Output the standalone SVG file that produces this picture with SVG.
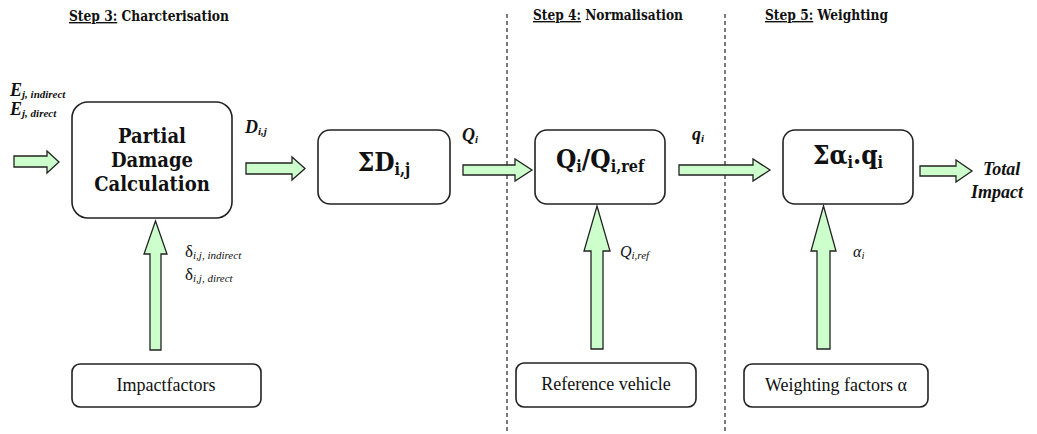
<svg xmlns="http://www.w3.org/2000/svg" width="1037" height="434" viewBox="0 0 1037 434" font-family="'Liberation Serif', 'DejaVu Serif', serif">
  <style>
    text { font-family: 'Liberation Serif', 'DejaVu Serif', serif; fill: #111; }
    .b { font-family: 'DejaVu Serif Condensed', 'DejaVu Serif', serif; font-weight: bold; }
    .title { font-size: 14px; }
    .box { fill: #fff; stroke: #222; stroke-width: 1.6; }
    .arrow { fill: #ccffcc; stroke: #222; stroke-width: 1.3; stroke-linejoin: miter; }
    .divider { stroke: #222; stroke-width: 1.2; stroke-dasharray: 4 3; }
    .big { font-size: 26px; }
    .mid { font-size: 20px; }
    .lbl { font-size: 18px; font-weight: bold; font-style: italic; }
    .sub { font-size: 11px; }
    .src { font-size: 18px; }
  </style>

  <!-- step headings -->
  <text class="b title" x="69" y="21" textLength="160" lengthAdjust="spacingAndGlyphs"><tspan text-decoration="underline">Step 3:</tspan> Charcterisation</text>
  <text class="b title" x="533" y="20" textLength="150" lengthAdjust="spacingAndGlyphs"><tspan text-decoration="underline">Step 4:</tspan> Normalisation</text>
  <text class="b title" x="765" y="20" textLength="123" lengthAdjust="spacingAndGlyphs"><tspan text-decoration="underline">Step 5:</tspan> Weighting</text>

  <!-- step dividers -->
  <line class="divider" x1="507" y1="14" x2="507" y2="434"/>
  <line class="divider" x1="725" y1="14" x2="725" y2="434"/>

  <g id="connectors">
    <!-- horizontal flow -->
    <polygon class="arrow" points="14,156 47,156 47,151 59,162 47,173 47,167 14,167"/>
    <polygon class="arrow" points="246,163 292,163 292,157 305,168.5 292,180 292,174 246,174"/>
    <polygon class="arrow" points="463,165 515,165 515,159 532,170 515,181 515,175 463,175"/>
    <polygon class="arrow" points="679,165 753,165 753,159 770,170 753,181 753,175 679,175"/>
    <polygon class="arrow" points="920,166 956,166 956,160 972,171 956,182 956,176 920,176"/>
    <!-- vertical inputs -->
    <polygon class="arrow" points="150,350 150,254 144,254 155.5,221 167,254 161,254 161,350"/>
    <polygon class="arrow" points="591,349 591,251 584,251 597,206 610,251 603,251 603,349"/>
    <polygon class="arrow" points="817,349 817,251 811,251 823.5,206 836,251 830,251 830,349"/>
  </g>

  <!-- flow labels -->
  <text class="lbl" x="10" y="96">E<tspan class="sub" dy="2">j, indirect</tspan></text>
  <text class="lbl" x="10" y="115">E<tspan class="sub" dy="2">j, direct</tspan></text>
  <text class="lbl" x="245" y="133" font-size="16">D<tspan class="sub" dy="2">i,j</tspan></text>
  <text class="lbl" x="462" y="141" font-size="16">Q<tspan class="sub" dy="2">i</tspan></text>
  <text class="lbl" x="692" y="140" font-size="16">q<tspan class="sub" dy="2">i</tspan></text>
  <text x="620" y="257" font-size="16" font-style="italic">Q<tspan font-size="11" dy="2">i,ref</tspan></text>
  <text x="853" y="257" font-size="16" font-style="italic">α<tspan font-size="11" dy="2">i</tspan></text>
  <text x="185" y="257" font-size="17">δ<tspan font-size="11" font-style="italic" dy="2">i,j, indirect</tspan></text>
  <text x="185" y="280" font-size="17">δ<tspan font-size="11" font-style="italic" dy="2">i,j, direct</tspan></text>
  <text class="lbl" x="983" y="175" font-size="20">Total</text>
  <text class="lbl" x="971" y="198" font-size="20">Impact</text>

  <g id="partial-damage">
    <rect class="box" x="72" y="102" width="160" height="116" rx="16"/>
    <text class="b mid" x="152" y="143" text-anchor="middle">Partial</text>
    <text class="b mid" x="152" y="167" text-anchor="middle">Damage</text>
    <text class="b mid" x="152" y="191" text-anchor="middle">Calculation</text>
  </g>

  <g id="sum-damage">
    <rect class="box" x="318" y="130" width="132" height="74" rx="12"/>
    <text class="b big" x="384" y="171" text-anchor="middle">ΣD<tspan font-size="16" dy="4">i,j</tspan></text>
  </g>

  <g id="normalise">
    <rect class="box" x="535" y="130" width="130" height="74" rx="12"/>
    <text class="b big" x="600" y="168" text-anchor="middle">Q<tspan font-size="16" dy="4">i</tspan><tspan dy="-4">/Q</tspan><tspan font-size="16" dy="4">i,ref</tspan></text>
  </g>

  <g id="weight-sum">
    <rect class="box" x="783" y="130" width="130" height="74" rx="12"/>
    <text class="b big" x="848" y="164" text-anchor="middle">Σα<tspan font-size="16" dy="4">i</tspan><tspan dy="-4">.q</tspan><tspan font-size="16" dy="4">i</tspan></text>
  </g>

  <g id="impactfactors">
    <rect class="box" x="72" y="364" width="189" height="43" rx="8"/>
    <text class="src" x="166" y="391" text-anchor="middle">Impactfactors</text>
  </g>

  <g id="reference-vehicle">
    <rect class="box" x="516" y="363" width="180" height="44" rx="8"/>
    <text class="src" x="606" y="390" text-anchor="middle">Reference vehicle</text>
  </g>

  <g id="weighting-factors">
    <rect class="box" x="744" y="364" width="184" height="43" rx="8"/>
    <text class="src" x="836" y="391" text-anchor="middle">Weighting factors α</text>
  </g>
</svg>
